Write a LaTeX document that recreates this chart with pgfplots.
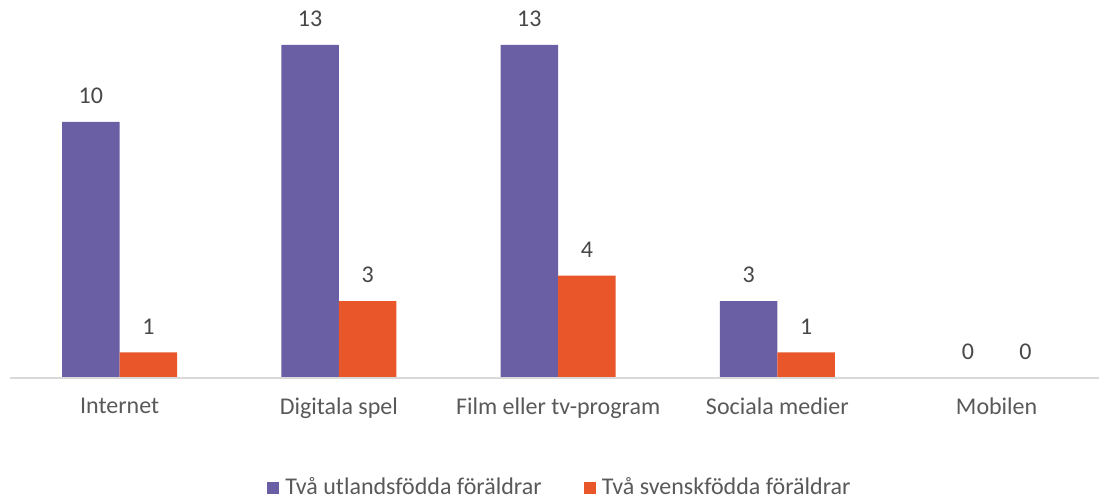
\documentclass[border=0pt]{standalone}
\usepackage{pgfplots}
\pgfplotsset{compat=1.18}
\usepackage{fontspec}
\setmainfont{Carlito}
\definecolor{cpurple}{HTML}{6A5FA5}
\definecolor{corange}{HTML}{E9562A}
\definecolor{ctext}{HTML}{595959}
\definecolor{caxis}{HTML}{D9D9D9}
\begin{document}
\fontsize{24}{29}\selectfont
\begin{tikzpicture}
\begin{axis}[
  at={(0pt,0pt)}, anchor=south west,
  scale only axis,
  width=1089pt, height=373pt,
  xmin=-0.5, xmax=4.467,
  ymin=0, ymax=14.56,
  ybar=0pt, bar width=57.5pt,
  axis on top,
  axis x line*=bottom, axis y line=none,
  x axis line style={draw=caxis, line width=1.5pt},
  xtick={0,1,2,3,4},
  xticklabels={Internet, Digitala spel, Film eller tv-program, Sociala medier, Mobilen},
  major tick length=0pt,
  xticklabel style={font=\fontsize{24}{29}\selectfont, text=ctext, yshift=-12pt},
  nodes near coords,
  every node near coord/.append style={font=\fontsize{24}{29}\selectfont, text=ctext!80!black, yshift=10pt},
  /pgf/number format/assume math mode=true,
  legend columns=2,
  legend style={at={(0.505,-0.295)}, anchor=center, draw=none, fill=none,
    font=\fontsize{24}{29}\selectfont, text=ctext,
    /tikz/every odd column/.append style={column sep=4pt},
    /tikz/every even column/.append style={column sep=40pt}},
  legend image code/.code={\fill[#1] (0pt,-6pt) rectangle (12pt,6pt);},
]
\addplot[fill=cpurple, draw=none] coordinates {(0,10) (1,13) (2,13) (3,3) (4,0)};
\addplot[fill=corange, draw=none] coordinates {(0,1) (1,3) (2,4) (3,1) (4,0)};
\legend{Två utlandsfödda föräldrar, Två svenskfödda föräldrar}
\end{axis}
\pgfresetboundingbox
\path (-10pt,-123pt) rectangle (1089pt,378pt);
\end{tikzpicture}
\end{document}
